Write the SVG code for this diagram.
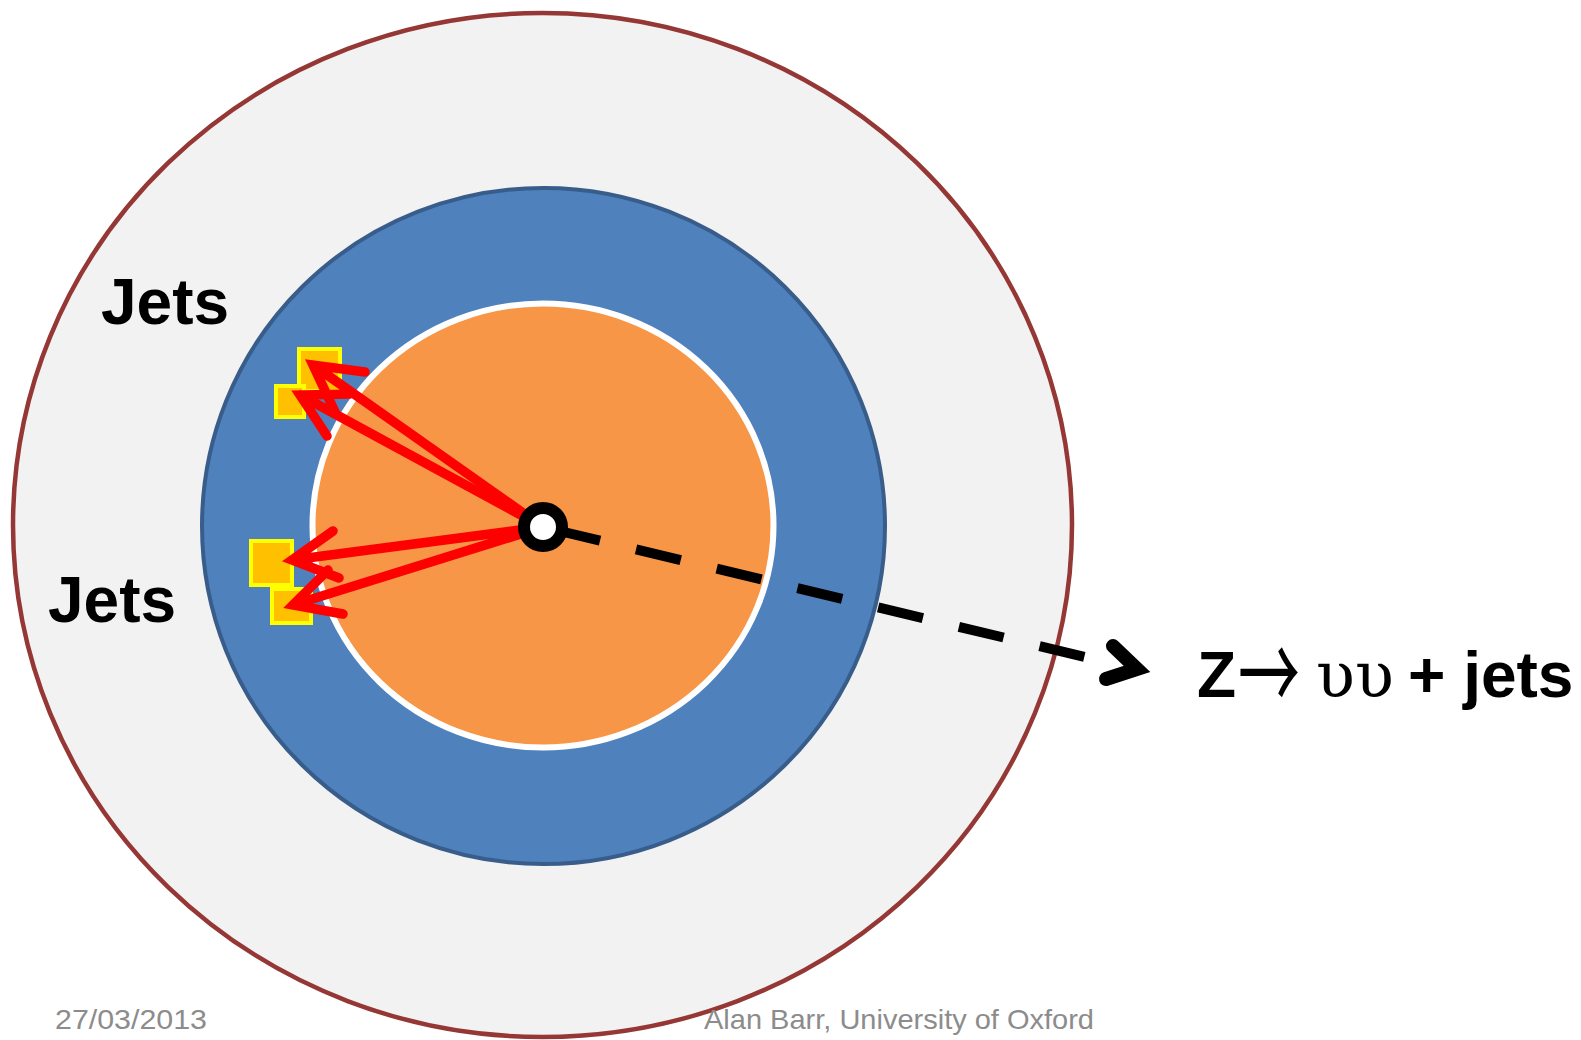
<svg xmlns="http://www.w3.org/2000/svg" width="1581" height="1040" viewBox="0 0 1581 1040">
<style>
.lbl{font-family:"Liberation Sans",Arial,sans-serif;font-weight:bold;font-size:64px;fill:#000}
.foot{font-family:"Liberation Sans",Arial,sans-serif;font-size:28px;fill:#8c8c8c}
.dep{fill:#ffc000;stroke:#ffff00;stroke-width:4}
.jet{fill:none;stroke:#ff0000;stroke-width:9.5;stroke-linecap:round;stroke-linejoin:miter}
</style>
<rect width="1581" height="1040" fill="#ffffff"/>
<g id="muon-system">
<ellipse cx="542.5" cy="525" rx="529.5" ry="512" fill="#f2f2f2" stroke="#953735" stroke-width="4.5"/>
</g>
<g id="calorimeter">
<ellipse cx="543.5" cy="526" rx="341.5" ry="338" fill="#4f81bd" stroke="#385d8a" stroke-width="4"/>
</g>
<g id="tracker">
<ellipse cx="543" cy="525.5" rx="230.5" ry="222" fill="#f79646" stroke="#ffffff" stroke-width="6"/>
</g>
<g id="deposit-1"><rect class="dep" x="299" y="349" width="41" height="42"/></g>
<g id="deposit-2"><rect class="dep" x="276" y="386" width="28" height="31"/></g>
<g id="deposit-3"><rect class="dep" x="251" y="541" width="41" height="44"/></g>
<g id="deposit-4"><rect class="dep" x="272" y="589" width="39" height="34"/></g>
<g id="connectors">
<path class="jet" d="M543 527 L313 365 M365 372 L313 365 L335 412"/>
<path class="jet" d="M543 527 L300 395 M350 394 L300 395 L327 436"/>
<path class="jet" d="M543 527 L292 560 M333 531 L292 560 L339 578"/>
<path class="jet" d="M543 527 L293 605 M328 570 L293 605 L343 614"/>
<path d="M555.3 530 L1092 658.7" fill="none" stroke="#000" stroke-width="10" stroke-dasharray="46 37"/>
<polyline points="1113,646 1137,669 1106,679" fill="none" stroke="#000" stroke-width="14" stroke-linecap="round" stroke-linejoin="miter"/>
</g>
<g id="vertex">
<circle cx="543" cy="527" r="19" fill="#ffffff" stroke="#000000" stroke-width="12"/>
</g>
<g id="label-jets-1"><text class="lbl" x="101" y="324">Jets</text></g>
<g id="label-jets-2"><text class="lbl" x="48" y="622">Jets</text></g>
<g id="label-process">
<text class="lbl" x="1197" y="697">Z</text>
<text transform="translate(1238,712) scale(1,1.7)" x="0" y="0" style="font-family:'Noto Sans CJK JP','DejaVu Sans',sans-serif;font-weight:normal;font-size:62px">→</text>
<text x="1316" y="697" style="font-family:'DejaVu Serif','Liberation Serif',serif;font-size:64px">υυ</text>
<text class="lbl" x="1408" y="697">+ jets</text>
</g>
<g id="footer">
<text class="foot" x="55" y="1029" textLength="152" lengthAdjust="spacingAndGlyphs">27/03/2013</text>
<text class="foot" x="704" y="1029" textLength="390" lengthAdjust="spacingAndGlyphs">Alan Barr, University of Oxford</text>
</g>
</svg>
